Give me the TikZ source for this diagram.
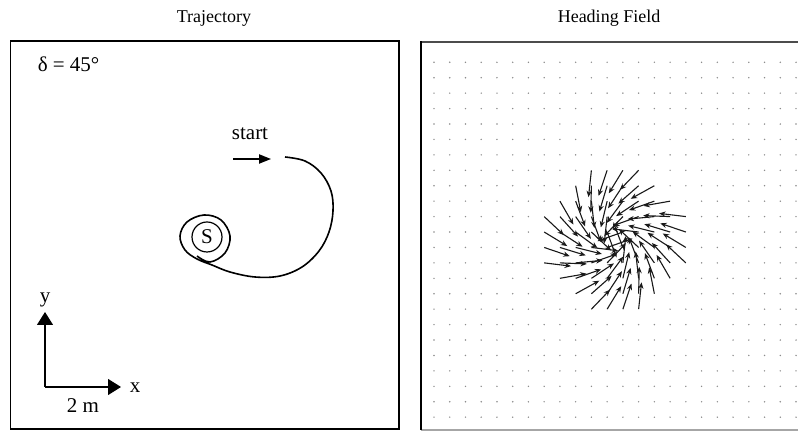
\documentclass[tikz,border=0pt]{standalone}
\usepackage{fontspec}
\setmainfont{Liberation Serif}
\usetikzlibrary{arrows.meta}

\begin{document}
\begin{tikzpicture}[x=0.5pt,y=-0.5pt,line width=0.75pt,
    label/.style = {font=\fontsize{10.5}{12}\selectfont, anchor=base, inner sep=0pt},
    title/.style = {font=\fontsize{9}{10}\selectfont, anchor=base, inner sep=0pt},
    track/.style = {line width=0.8pt, line join=round},
    pointer/.style = {-{Triangle[length=6pt,width=4.6pt]}},
    axis/.style = {-{Triangle[length=6.5pt,width=8pt]}, line width=0.6pt},
    fieldarrow/.style = {-{Stealth[length=3.2pt,width=2.6pt]}, line width=0.55pt, black!90},
    fielddot/.style = {fill=black!45}]
    \useasboundingbox (0,0) rectangle (798,431);

    % titles
    \node[title] (ttraj) at (214,23) {Trajectory};
    \node[title] (tfield) at (609,23) {Heading Field};

    % left panel
    \draw (10.5,41) rectangle (399,429);
    \node[label, anchor=base west] (delta) at (37,72) {δ = 45°};

    % goal and path
    \node[circle, draw, line width=0.6pt, minimum size=15pt, inner sep=0pt,
        font=\fontsize{10.5}{12}\selectfont] (S) at (207,237) {S};
    \draw[track] plot[smooth, tension=0.6] coordinates {
        (285,157) (305,161) (321,173) (331,191) (333,211) (329,232)
        (319,251) (302,267) (280,276) (255,277) (230,272) (212,265)
        (197,259) (185,250) (180,236) (187,222) (204,215) (221,220)
        (230,236) (225,253) (210,262) (197,256)};

    \node[label] (start) at (250,140) {start};
    \coordinate (startTail) at (233,159);
    \coordinate (startHead) at (271,159);
    \draw[pointer] (startTail) -- (startHead);

    % axes
    \coordinate (origin) at (45,387);
    \coordinate (xEnd) at (121,387);
    \coordinate (yEnd) at (45,312);
    \draw[axis] (origin) -- (xEnd);
    \draw[axis] (origin) -- (yEnd);
    \node[label] (xlab) at (135,393) {x};
    \node[label] (ylab) at (45,303) {y};
    \node[label] (scale) at (83,413) {2 m};

    % right panel
    \draw[black!70, line width=1pt] (421,42) -- (798,42);
    \draw[black!35] (421,430) -- (798,430);
    \draw (421,41.5) -- (421,430);

    % heading field
    \foreach \i in {0,...,23}{
        \foreach \j in {0,...,23}{
            \pgfmathsetmacro{\px}{434+15.74*\i}
            \pgfmathsetmacro{\py}{62.3+15.43*\j}
            \pgfmathsetmacro{\rr}{veclen(\i-11.5,\j-11.5)}
            \pgfmathsetmacro{\ang}{atan2(239.8-\py,615-\px)+25}
            \ifdim\rr pt<4.8pt
                \draw[fieldarrow] (\px,\py) -- ++(\ang:27);
            \else
                \fill[fielddot] (\px,\py) circle (0.8);
            \fi
        }
    }
\end{tikzpicture}
\end{document}
